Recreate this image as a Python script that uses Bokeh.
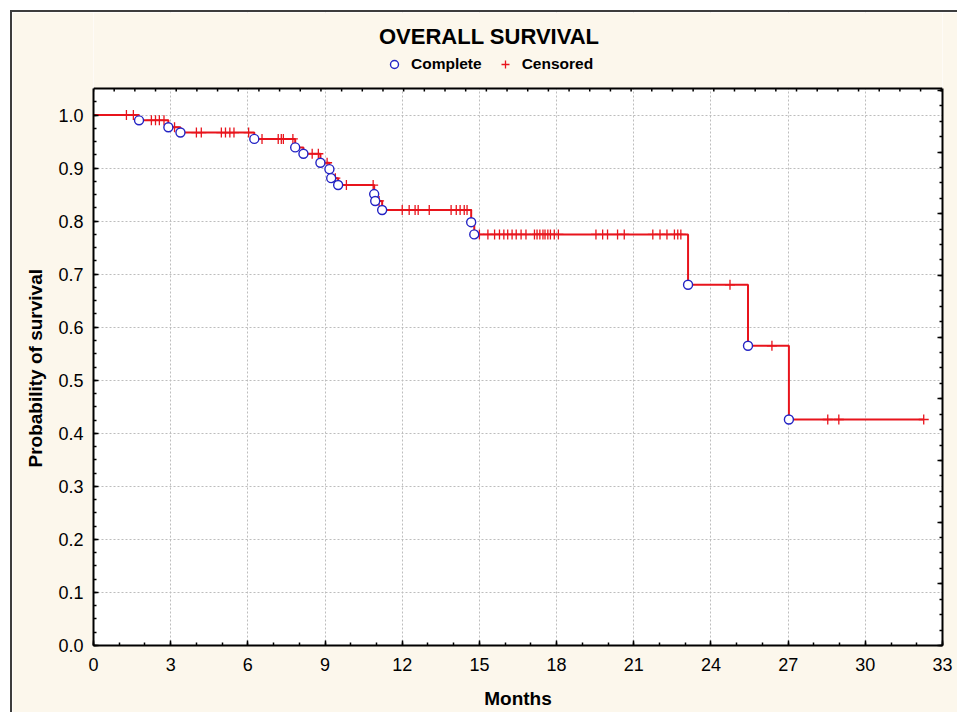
import numpy as np
from bokeh.plotting import figure
from bokeh.models import (FixedTicker, LinearAxis, Range1d, Legend, LegendItem,
                          ColumnDataSource, Span, Title)
from bokeh.embed import file_html
from bokeh.resources import INLINE

# ---- data ----
event_months = [1.77, 2.91, 3.38, 6.25, 7.84, 8.16, 8.82, 9.17, 9.24, 9.51,
                10.91, 10.95, 11.22, 14.68, 14.80, 23.11, 25.44, 27.03]
event_survival = [0.990, 0.977, 0.967, 0.955, 0.939, 0.927, 0.910, 0.898, 0.881,
                  0.868, 0.851, 0.838, 0.821, 0.798, 0.775, 0.680, 0.565, 0.426]
censored_months = [1.28, 1.55, 2.25, 2.41, 2.56, 2.74, 3.15, 4.00, 4.19, 4.97,
                   5.13, 5.30, 5.46, 6.03, 6.55, 7.18, 7.30, 7.38, 7.75, 8.50,
                   8.74, 9.08, 9.40, 9.83, 10.87, 11.10, 12.00, 12.27, 12.50,
                   12.62, 13.05, 13.90, 14.10, 14.25, 14.41, 14.52, 15.00, 15.33,
                   15.59, 15.78, 15.95, 16.10, 16.27, 16.43, 16.62, 16.81, 17.14,
                   17.24, 17.35, 17.47, 17.55, 17.66, 17.76, 17.91, 18.07, 19.53,
                   19.79, 19.98, 20.37, 20.63, 21.74, 22.02, 22.29, 22.58, 22.71,
                   22.83, 24.74, 26.37, 28.54, 28.97, 32.27]
x_tick_values = [0, 3, 6, 9, 12, 15, 18, 21, 24, 27, 30, 33]
x_tick_labels = ["0", "3", "6", "9", "12", "15", "18", "21", "24", "27", "30", "33"]
y_tick_values = [0.0, 0.1, 0.2, 0.3, 0.4, 0.5, 0.6, 0.7, 0.8, 0.9, 1.0]
y_tick_labels = ["0.0", "0.1", "0.2", "0.3", "0.4", "0.5", "0.6", "0.7", "0.8", "0.9", "1.0"]
chart_title = "OVERALL SURVIVAL"
legend_labels = ["Complete", "Censored"]
x_label = "Months"
y_label = "Probability of survival"

# survival level for each censored observation (step function lookup)
ev_t = np.array(event_months)
ev_s = np.array(event_survival)
idx = np.searchsorted(ev_t, np.array(censored_months), side="right")
censored_survival = [1.0 if i == 0 else float(ev_s[i - 1]) for i in idx]

step_x = [0.0] + event_months + [censored_months[-1]]
step_y = [1.0] + event_survival + [event_survival[-1]]

RED = "#e8141c"
BLUE = "#2424c4"
FONT = "Liberation Sans"
CREAM = "#fcf7ec"

# geometry: the frame also holds the title/legend strip above the plot box
X_MAX = 33.0
Y_MAX = 1.05                     # top of the plot box
FRAME_H = 702 - 69               # frame height in px
BOX_H = 557                      # plot box height in px
Y_END = Y_MAX * FRAME_H / BOX_H
R_MAX = 9.03                     # right axis scale (unlabelled)
T_MAX = 41.06                    # top axis scale (unlabelled)

p = figure(width=947, height=702, output_backend="svg", toolbar_location=None,
           x_range=Range1d(0, X_MAX), y_range=Range1d(0, Y_END),
           min_border_left=80, min_border_right=17, min_border_top=0,
           min_border_bottom=69)
p.styles = {"margin-left": "10px", "margin-top": "10px",
            "border-left": "2px solid #3d3d3d", "border-top": "2px solid #3d3d3d"}
p.background_fill_color = "white"
p.border_fill_color = CREAM
p.outline_line_color = None

# grids
for g in (p.xgrid, p.ygrid):
    g.grid_line_color = "#bdbdbd"
    g.grid_line_dash = "2 2"
    g.grid_line_width = 1

# main axes
p.xaxis.ticker = FixedTicker(ticks=x_tick_values, minor_ticks=list(range(0, 34)))
p.xaxis.major_label_overrides = {v: l for v, l in zip(x_tick_values, x_tick_labels)}
p.yaxis.ticker = FixedTicker(ticks=y_tick_values,
                             minor_ticks=[i * 0.025 for i in range(0, 42)])
p.yaxis.major_label_overrides = {v: l for v, l in zip(y_tick_values, y_tick_labels)}
p.yaxis.bounds = (0, Y_MAX)
p.xaxis.axis_label = x_label
for ax in (p.xaxis[0], p.yaxis[0]):
    ax.axis_line_width = 2
    ax.axis_line_color = "black"
    ax.major_tick_in = 5
    ax.major_tick_out = 0
    ax.minor_tick_in = 3
    ax.minor_tick_out = 0
    ax.major_tick_line_width = 1.5
    ax.minor_tick_line_width = 1.5
    ax.major_label_text_font = FONT
    ax.major_label_text_font_size = "18px"
    ax.major_label_text_color = "black"
    ax.axis_label_text_font = FONT
    ax.axis_label_text_font_size = "19px"
    ax.axis_label_text_font_style = "bold"
    ax.axis_label_text_color = "black"
p.xaxis.major_label_standoff = 12
p.xaxis.axis_label_standoff = 14
p.yaxis.major_label_standoff = 10

# y label as a side title, placed along the plot box (not the whole frame)
p.add_layout(Title(text=y_label, align="left", offset=178, standoff=20,
                   text_font=FONT, text_font_size="19px", text_font_style="bold",
                   text_color="black"), "left")

# secondary (label-less) scales on the right and top, as in the original
p.extra_x_ranges = {"top": Range1d(0, T_MAX)}
p.extra_y_ranges = {"right": Range1d(0, R_MAX * FRAME_H / BOX_H)}
right_axis = LinearAxis(y_range_name="right", bounds=(0, R_MAX),
                        ticker=FixedTicker(ticks=list(range(0, 10)),
                                           minor_ticks=[i * 0.25 for i in range(0, 37)]))
right_axis.axis_line_width = 2
right_axis.axis_line_color = "black"
right_axis.major_tick_out = 0
right_axis.minor_tick_out = 0
right_axis.major_tick_in = 5
right_axis.minor_tick_in = 3
right_axis.major_tick_line_width = 1.5
right_axis.minor_tick_line_width = 1.5
right_axis.major_label_text_font_size = "1px"
right_axis.major_label_text_color = None
right_axis.major_label_standoff = 0
p.add_layout(right_axis, "right")

# strip above the plot box takes the page colour, top border line of the box
p.quad(left=0, right=X_MAX, bottom=Y_MAX, top=Y_END, fill_color=CREAM,
       line_color=None)
top_ticks = list(range(0, 42))
p.segment(x0=top_ticks, x1=top_ticks, y0=[Y_MAX] * len(top_ticks),
          y1=[Y_MAX - 3.0 / BOX_H * Y_MAX] * len(top_ticks),
          x_range_name="top", line_color="black", line_width=1.5)
p.add_layout(Span(location=Y_MAX, dimension="width", line_color="black",
                  line_width=2))

# survival curve
p.step(step_x, step_y, mode="after", line_color=RED, line_width=2)
cens_src = ColumnDataSource(dict(x=censored_months, y=censored_survival))
r_cens = p.scatter("x", "y", source=cens_src, marker="cross", size=10,
                   line_color=RED, line_width=1.3)
ev_src = ColumnDataSource(dict(x=event_months, y=event_survival))
r_ev = p.scatter("x", "y", source=ev_src, marker="circle", size=9,
                 line_color=BLUE, fill_color="white", line_width=1.4)

# title + legend block in the strip above the plot box
legend = Legend(items=[LegendItem(label=legend_labels[0], renderers=[r_ev]),
                       LegendItem(label=legend_labels[1], renderers=[r_cens])],
                orientation="horizontal", location=(286, 571),
                title=chart_title, title_text_font=FONT,
                title_text_font_size="22px", title_text_font_style="bold",
                title_text_color="black", title_standoff=4,
                border_line_color=None, background_fill_alpha=0,
                label_text_font=FONT, label_text_font_style="bold",
                label_text_font_size="15.5px", label_text_color="black",
                glyph_width=30, glyph_height=20, label_height=20,
                label_standoff=2, spacing=8, padding=0, margin=0)
p.add_layout(legend, "center")

open("out.html", "w").write(file_html(p, INLINE))
